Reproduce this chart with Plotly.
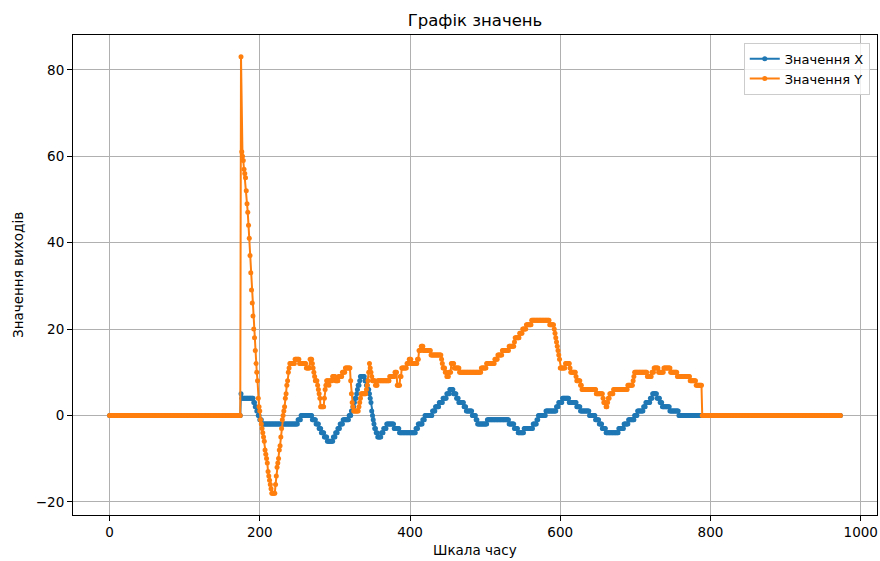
import plotly.graph_objects as go

# Time scale: one sample per time unit
t_start = 0
t_end = 973

# Series "Значення X": (last time of segment, value)
x_segments = [
    (174, 0), (175, 5), (191, 4), (193, 3), (195, 2), (197, 1), (199, 0), (202, -1),
    (250, -2), (254, -1), (269, 0), (274, -1), (278, -2), (281, -3), (285, -4), (289, -5),
    (297, -6), (300, -5), (303, -4), (306, -3), (310, -2), (318, -1), (321, 0), (323, 1),
    (325, 2), (326, 3), (328, 4), (329, 5), (330, 6), (332, 7), (333, 8), (339, 9),
    (341, 8), (343, 7), (345, 6), (346, 5), (347, 4), (348, 3), (349, 1), (350, 0),
    (351, -1), (352, -2), (354, -3), (356, -4), (361, -5), (364, -4), (368, -3), (378, -2),
    (385, -3), (407, -4), (410, -3), (416, -2), (419, -1), (429, 0), (433, 1), (438, 2),
    (443, 3), (448, 4), (452, 5), (457, 6), (461, 5), (464, 4), (471, 3), (474, 2),
    (482, 1), (487, 0), (489, -1), (502, -2), (531, -1), (538, -2), (543, -3), (551, -4),
    (563, -3), (568, -2), (570, -1), (580, 0), (594, 1), (597, 2), (602, 3), (611, 4),
    (621, 3), (626, 2), (638, 1), (646, 0), (651, -1), (655, -2), (660, -3), (677, -4),
    (684, -3), (690, -2), (698, -1), (702, 0), (710, 1), (713, 2), (719, 3), (722, 4),
    (728, 5), (732, 4), (735, 3), (745, 2), (757, 1), (973, 0),
]

# Series "Значення Y": (last time of segment, value)
y_segments = [
    (174, 0), (175, 83), (176, 61), (177, 60), (178, 59), (179, 57), (180, 56), (181, 55),
    (182, 52), (183, 49), (184, 47), (185, 44), (186, 41), (187, 37), (188, 33), (189, 29),
    (190, 26), (191, 23), (192, 20), (193, 18), (194, 15), (195, 12), (196, 10), (197, 8),
    (198, 4), (199, 2), (200, 1), (201, -1), (202, -2), (203, -3), (204, -4), (205, -5),
    (206, -6), (207, -8), (208, -9), (209, -10), (210, -11), (211, -13), (212, -14),
    (213, -15), (214, -16), (215, -17), (220, -18), (221, -16), (222, -14), (223, -12),
    (224, -11), (225, -10), (226, -8), (227, -7), (228, -5), (229, -3), (230, -1), (231, 0),
    (232, 1), (233, 2), (234, 4), (235, 5), (236, 7), (237, 8), (238, 10), (239, 11),
    (246, 12), (252, 13), (261, 12), (266, 11), (269, 13), (270, 12), (271, 11), (272, 10),
    (273, 9), (276, 8), (277, 7), (278, 6), (279, 5), (280, 4), (285, 2), (286, 4),
    (287, 6), (288, 7), (291, 8), (292, 7), (296, 8), (300, 9), (304, 8), (309, 9),
    (313, 10), (320, 11), (321, 8), (322, 5), (323, 3), (324, 2), (331, 1), (332, 2),
    (333, 3), (334, 4), (341, 5), (342, 6), (343, 7), (344, 8), (345, 10), (346, 12),
    (347, 11), (348, 10), (349, 9), (353, 8), (356, 7), (372, 8), (379, 9), (382, 10),
    (386, 7), (388, 9), (395, 11), (398, 12), (401, 13), (409, 12), (411, 13), (414, 15),
    (417, 16), (427, 15), (441, 14), (442, 13), (443, 12), (446, 11), (448, 10), (451, 9),
    (454, 10), (458, 12), (465, 11), (494, 10), (501, 11), (512, 12), (516, 13), (522, 14),
    (531, 15), (538, 16), (539, 17), (545, 18), (549, 19), (554, 20), (561, 21), (585, 22),
    (591, 21), (592, 20), (593, 19), (594, 18), (595, 17), (596, 16), (597, 15), (598, 14),
    (599, 13), (606, 11), (612, 12), (613, 11), (620, 10), (621, 9), (626, 8), (628, 7),
    (647, 6), (656, 5), (657, 4), (660, 3), (662, 2), (663, 3), (665, 4), (670, 5),
    (689, 6), (696, 7), (697, 8), (698, 9), (715, 10), (721, 9), (724, 10), (730, 11),
    (737, 10), (746, 11), (755, 10), (772, 9), (780, 8), (788, 7), (973, 0),
]

x_ticks = [0, 200, 400, 600, 800, 1000]
y_ticks = [-20, 0, 20, 40, 60, 80]


def expand(segments):
    vals = []
    for end, v in segments:
        while len(vals) <= end - t_start:
            vals.append(v)
    return vals


t = list(range(t_start, t_end + 1))
xs = expand(x_segments)
ys = expand(y_segments)

FONT = "DejaVu Sans, Liberation Sans, sans-serif"
fig = go.Figure()
fig.add_trace(go.Scatter(x=t, y=xs, mode="lines+markers", name="Значення X",
                         line=dict(color="#1f77b4", width=2),
                         marker=dict(color="#1f77b4", size=5)))
fig.add_trace(go.Scatter(x=t, y=ys, mode="lines+markers", name="Значення Y",
                         line=dict(color="#ff7f0e", width=2),
                         marker=dict(color="#ff7f0e", size=5)))

x_pad = (t_end - t_start) * 0.05
all_y = xs + ys
y_pad = (max(all_y) - min(all_y)) * 0.05

axis_common = dict(showline=True, linecolor="black", linewidth=1, mirror=True,
                   ticks="outside", ticklen=5, tickcolor="black", tickwidth=1,
                   showgrid=True, gridcolor="#b0b0b0", gridwidth=0.8,
                   zeroline=False, tickfont=dict(family=FONT, size=13.5, color="black"))

fig.update_layout(
    width=880, height=561,
    margin=dict(l=73, r=3, t=35, b=46),
    plot_bgcolor="white", paper_bgcolor="white",
    font=dict(family=FONT, color="black"),
    title=dict(text="Графік значень", x=0.5, xref="paper", y=1 - 20 / 561,
               yref="container", xanchor="center", yanchor="middle",
               font=dict(family=FONT, size=16.5, color="black")),
    xaxis=dict(range=[t_start - x_pad, t_end + x_pad], tickvals=x_ticks, **axis_common),
    yaxis=dict(range=[min(all_y) - y_pad, max(all_y) + y_pad], tickvals=y_ticks, **axis_common),
    legend=dict(x=0.991, y=0.984, xanchor="right", yanchor="top",
                bgcolor="rgba(255,255,255,0.8)", bordercolor="#cccccc", borderwidth=1,
                font=dict(family=FONT, size=13, color="black"),
                itemwidth=30, tracegroupgap=0),
    showlegend=True,
    annotations=[
        dict(text="Шкала часу", xref="paper", yref="paper", x=0.5, y=-35 / 480,
             xanchor="center", yanchor="middle", showarrow=False,
             font=dict(family=FONT, size=13.5, color="black")),
        dict(text="Значення виходів", xref="paper", yref="paper", x=-55 / 804, y=0.5,
             xanchor="center", yanchor="middle", textangle=-90, showarrow=False,
             font=dict(family=FONT, size=13.5, color="black")),
    ],
)

fig.write_html("out.html", config={"displayModeBar": False},
               post_script="document.body.style.margin='0';document.body.style.padding='0';")
